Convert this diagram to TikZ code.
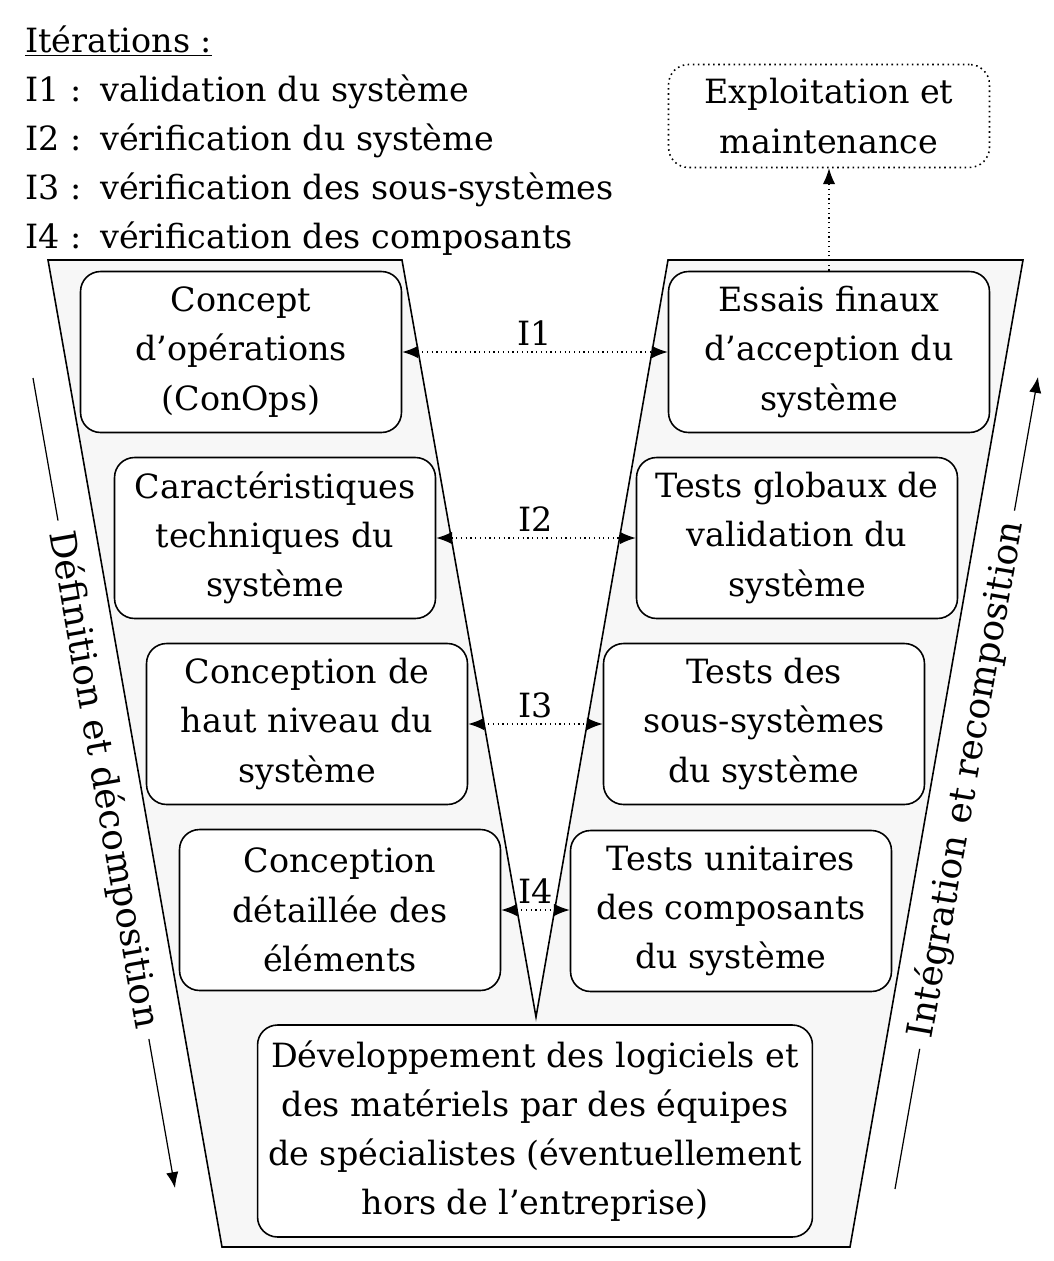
\documentclass[tikz,border=0pt]{standalone}
\usepackage{fontspec}
\setmainfont{DejaVu Serif}
\usetikzlibrary{arrows.meta,positioning}

\begin{document}
\begin{tikzpicture}[
    x=0.02cm, y=-0.02cm,
    font=\fontsize{19}{28}\selectfont,
    stage/.style={rectangle, draw, line width=0.9pt, fill=white, rounded corners=0.4cm, minimum width=6.42cm, minimum height=3.22cm, align=center, inner sep=0pt},
    ops/.style={stage, dotted, minimum height=2.06cm},
    iter/.style={{Latex[length=9pt,width=7pt]}-{Latex[length=9pt,width=7pt]}, dotted, line width=0.7pt},
    flow/.style={-{Latex[length=9pt,width=7pt]}, line width=0.7pt},
    vshape/.style={draw, line width=0.9pt, fill=black!3},
    side/.style={sloped, inner sep=6pt, font=\fontsize{20.5}{28}\selectfont}
]
\useasboundingbox (0,0) rectangle (1054,1261);

% Legend of the iterations
\node[anchor=base west, inner sep=0pt] (legend) at (25,52) {%
  \begin{tabular}[t]{@{}p{1.5cm}@{}l@{}}
    \multicolumn{2}{@{}l@{}}{\underline{Itérations :}}\\
    I1 : & validation du système\\
    I2 : & vérification du système\\
    I3 : & vérification des sous-systèmes\\
    I4 : & vérification des composants
  \end{tabular}};

% V outline
\draw[vshape] (48,260) -- (402,260) -- (536,1017) -- (668,260) -- (1023,260) -- (850,1247) -- (222,1247) -- cycle;

% Left branch (definition)
\node[stage] (conops) at (241,352) {Concept\\d’opérations\\(ConOps)};
\node[stage] (techspec) at (275,538) {Caractéristiques\\techniques du\\système};
\node[stage] (hldesign) at (307,724) {Conception de\\haut niveau du\\système};
\node[stage] (detdesign) at (340,910) {Conception\\détaillée des\\éléments};

% Right branch (integration)
\node[stage] (accept) at (829,352) {Essais finaux\\d’acception du\\système};
\node[stage] (systest) at (797,538) {Tests globaux de\\validation du\\système};
\node[stage] (subtest) at (764,724) {Tests des\\sous-systèmes\\du système};
\node[stage] (unittest) at (731,911) {Tests unitaires\\des composants\\du système};

% Bottom of the V
\node[stage, minimum width=11.1cm, minimum height=4.24cm] (dev) at (535,1131) {Développement des logiciels et\\des matériels par des équipes\\de spécialistes (éventuellement\\hors de l’entreprise)};

% Operations
\node[ops] (maint) at (829,116) {Exploitation et\\maintenance};
\draw[flow, dotted] (accept) -- (maint);

% Iterations
\draw[iter] (conops) -- node[above] {I1} (accept);
\draw[iter] (techspec) -- node[above] {I2} (systest);
\draw[iter] (hldesign) -- node[above] {I3} (subtest);
\draw[iter] (detdesign.east) -- node[above] {I4} (detdesign.east -| unittest.west);

% Side arrows
\coordinate (defstart) at (33,378);
\coordinate (defend) at (175,1188);
\path (defstart) -- node[side, pos=0.496] (deflabel) {Définition et décomposition} (defend);
\draw[line width=0.7pt] (defstart) -- (deflabel.west);
\draw[flow] (deflabel.east) -- (defend);

\coordinate (intstart) at (895,1189);
\coordinate (intend) at (1038,377);
\path (intstart) -- node[side, pos=0.504] (intlabel) {Intégration et recomposition} (intend);
\draw[line width=0.7pt] (intstart) -- (intlabel.west);
\draw[flow] (intlabel.east) -- (intend);

\end{tikzpicture}
\end{document}
